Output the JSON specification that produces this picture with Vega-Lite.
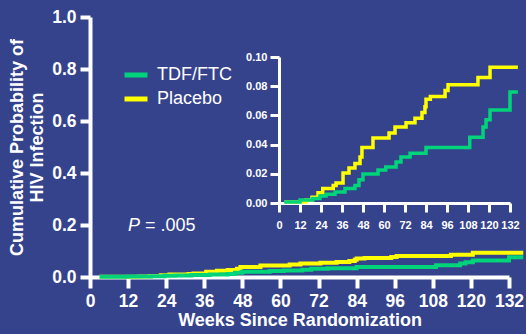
{
  "$schema": "https://vega.github.io/schema/vega-lite/v6.json",
  "width": 419,
  "height": 260,
  "autosize": {"type": "none"},
  "padding": {"left": 90, "top": 17, "right": 17, "bottom": 57},
  "background": "#35438C",
  "config": {
    "view": {"stroke": null},
    "font": "Liberation Sans",
    "axis": {
      "grid": false,
      "domainColor": "white",
      "tickColor": "white",
      "labelColor": "white",
      "titleColor": "white",
      "labelFont": "Liberation Sans",
      "titleFont": "Liberation Sans",
      "labelFlush": false,
      "labelOverlap": false,
      "labelBound": false
    }
  },
  "data": {
    "values": [
      {"group": "Placebo", "week": 3, "prob": 0.0007},
      {"group": "Placebo", "week": 15.4, "prob": 0.002},
      {"group": "Placebo", "week": 18.9, "prob": 0.004},
      {"group": "Placebo", "week": 22.3, "prob": 0.007},
      {"group": "Placebo", "week": 25, "prob": 0.010},
      {"group": "Placebo", "week": 31, "prob": 0.012},
      {"group": "Placebo", "week": 32.6, "prob": 0.0137},
      {"group": "Placebo", "week": 36.6, "prob": 0.0205},
      {"group": "Placebo", "week": 40, "prob": 0.024},
      {"group": "Placebo", "week": 43.4, "prob": 0.027},
      {"group": "Placebo", "week": 46.3, "prob": 0.0315},
      {"group": "Placebo", "week": 47.4, "prob": 0.038},
      {"group": "Placebo", "week": 53.7, "prob": 0.0445},
      {"group": "Placebo", "week": 62.9, "prob": 0.048},
      {"group": "Placebo", "week": 66.3, "prob": 0.052},
      {"group": "Placebo", "week": 72.6, "prob": 0.055},
      {"group": "Placebo", "week": 77.7, "prob": 0.058},
      {"group": "Placebo", "week": 81.7, "prob": 0.062},
      {"group": "Placebo", "week": 83.4, "prob": 0.066},
      {"group": "Placebo", "week": 84, "prob": 0.071},
      {"group": "Placebo", "week": 86.5, "prob": 0.073},
      {"group": "Placebo", "week": 94.9, "prob": 0.077},
      {"group": "Placebo", "week": 96.6, "prob": 0.081},
      {"group": "Placebo", "week": 113.7, "prob": 0.086},
      {"group": "Placebo", "week": 120.6, "prob": 0.093},
      {"group": "Placebo", "week": 136.5, "prob": 0.093},
      {"group": "TDF/FTC", "week": 3, "prob": 0.0007},
      {"group": "TDF/FTC", "week": 12, "prob": 0.002},
      {"group": "TDF/FTC", "week": 19.4, "prob": 0.003},
      {"group": "TDF/FTC", "week": 23.4, "prob": 0.0048},
      {"group": "TDF/FTC", "week": 26.9, "prob": 0.006},
      {"group": "TDF/FTC", "week": 32, "prob": 0.0075},
      {"group": "TDF/FTC", "week": 37.7, "prob": 0.010},
      {"group": "TDF/FTC", "week": 43.4, "prob": 0.012},
      {"group": "TDF/FTC", "week": 45.7, "prob": 0.016},
      {"group": "TDF/FTC", "week": 48, "prob": 0.0198},
      {"group": "TDF/FTC", "week": 56.6, "prob": 0.0226},
      {"group": "TDF/FTC", "week": 61, "prob": 0.0247},
      {"group": "TDF/FTC", "week": 66.9, "prob": 0.028},
      {"group": "TDF/FTC", "week": 69.7, "prob": 0.0315},
      {"group": "TDF/FTC", "week": 74.9, "prob": 0.034},
      {"group": "TDF/FTC", "week": 84, "prob": 0.038},
      {"group": "TDF/FTC", "week": 109, "prob": 0.045},
      {"group": "TDF/FTC", "week": 116.6, "prob": 0.052},
      {"group": "TDF/FTC", "week": 118.3, "prob": 0.057},
      {"group": "TDF/FTC", "week": 120.6, "prob": 0.0637},
      {"group": "TDF/FTC", "week": 132, "prob": 0.076},
      {"group": "TDF/FTC", "week": 136.5, "prob": 0.076}
    ]
  },
  "layer": [
    {
      "mark": {"type": "line", "interpolate": "step-after", "strokeWidth": 4},
      "encoding": {
        "x": {
          "field": "week",
          "type": "quantitative",
          "scale": {"domain": [0, 132], "nice": false, "zero": false},
          "axis": {
            "values": [0, 12, 24, 36, 48, 60, 72, 84, 96, 108, 120, 132],
            "labelOverlap": false,
            "labelFlush": false,
            "tickSize": 11,
            "tickWidth": 4,
            "domainWidth": 4,
            "labelFontSize": 17.5,
            "labelFontWeight": "bold",
            "labelPadding": 4,
            "title": "Weeks Since Randomization",
            "titleFontSize": 18,
            "titleFontWeight": "bold",
            "titlePadding": 2
          }
        },
        "y": {
          "field": "prob",
          "type": "quantitative",
          "scale": {"domain": [0, 1], "nice": false},
          "axis": {
            "values": [0, 0.2, 0.4, 0.6, 0.8, 1.0],
            "labelOverlap": false,
            "format": ".1f",
            "tickSize": 10,
            "tickWidth": 4,
            "domainWidth": 4,
            "labelFontSize": 17.5,
            "labelFontWeight": "bold",
            "labelPadding": 4,
            "title": ["Cumulative Probability of", "HIV Infection"],
            "titleFontSize": 18,
            "titleFontWeight": "bold",
            "titleLineHeight": 20,
            "titlePadding": 5
          }
        },
        "color": {
          "field": "group",
          "type": "nominal",
          "scale": {"domain": ["TDF/FTC", "Placebo"], "range": ["#00D47B", "#FFFF00"]},
          "legend": {
            "title": null,
            "orient": "none",
            "legendX": 32,
            "legendY": 44,
            "symbolType": "stroke",
            "symbolSize": 529,
            "symbolStrokeWidth": 5,
            "labelFontSize": 18,
            "labelFont": "Liberation Sans",
            "labelColor": "white",
            "labelOffset": 7,
            "rowPadding": -3
          }
        }
      }
    },
    {
      "data": {"values": [{"label": "P"}]},
      "mark": {"type": "text", "fontStyle": "italic", "fontSize": 18, "align": "left", "baseline": "middle", "color": "white", "font": "Liberation Sans"},
      "encoding": {
        "text": {"field": "label"},
        "x": {"datum": 12, "type": "quantitative", "scale": {"domain": [0, 132], "nice": false, "zero": false}, "axis": null},
        "y": {"datum": 0.196, "type": "quantitative", "scale": {"domain": [0, 1], "nice": false}, "axis": null}
      }
    },
    {
      "data": {"values": [{"label": "= .005"}]},
      "mark": {"type": "text", "fontSize": 18, "align": "left", "baseline": "middle", "color": "white", "font": "Liberation Sans"},
      "encoding": {
        "text": {"field": "label"},
        "x": {"datum": 17.3, "type": "quantitative", "scale": {"domain": [0, 132], "nice": false, "zero": false}, "axis": null},
        "y": {"datum": 0.196, "type": "quantitative", "scale": {"domain": [0, 1], "nice": false}, "axis": null}
      }
    },
    {
      "mark": {"type": "line", "interpolate": "step-after", "strokeWidth": 3.5},
      "encoding": {
        "x": {
          "field": "week",
          "type": "quantitative",
          "scale": {"domain": [0, 132], "range": [189, 420], "nice": false, "zero": false},
          "axis": {
            "orient": "bottom",
            "offset": -74,
            "values": [0, 12, 24, 36, 48, 60, 72, 84, 96, 108, 120, 132],
            "labelOverlap": false,
            "labelFlush": false,
            "tickSize": 9,
            "tickWidth": 3,
            "domainWidth": 3,
            "labelFontSize": 11,
            "labelFontWeight": "bold",
            "labelPadding": 7,
            "title": null
          }
        },
        "y": {
          "field": "prob",
          "type": "quantitative",
          "scale": {"domain": [0, 0.1], "range": [186, 40], "nice": false},
          "axis": {
            "orient": "left",
            "offset": -189,
            "values": [0, 0.02, 0.04, 0.06, 0.08, 0.1],
            "labelOverlap": false,
            "format": ".2f",
            "tickSize": 9,
            "tickWidth": 3,
            "domainWidth": 3,
            "labelFontSize": 11,
            "labelFontWeight": "bold",
            "labelPadding": 3,
            "title": null
          }
        },
        "color": {"field": "group", "type": "nominal", "legend": null}
      }
    }
  ],
  "resolve": {"scale": {"x": "independent", "y": "independent"}}
}
